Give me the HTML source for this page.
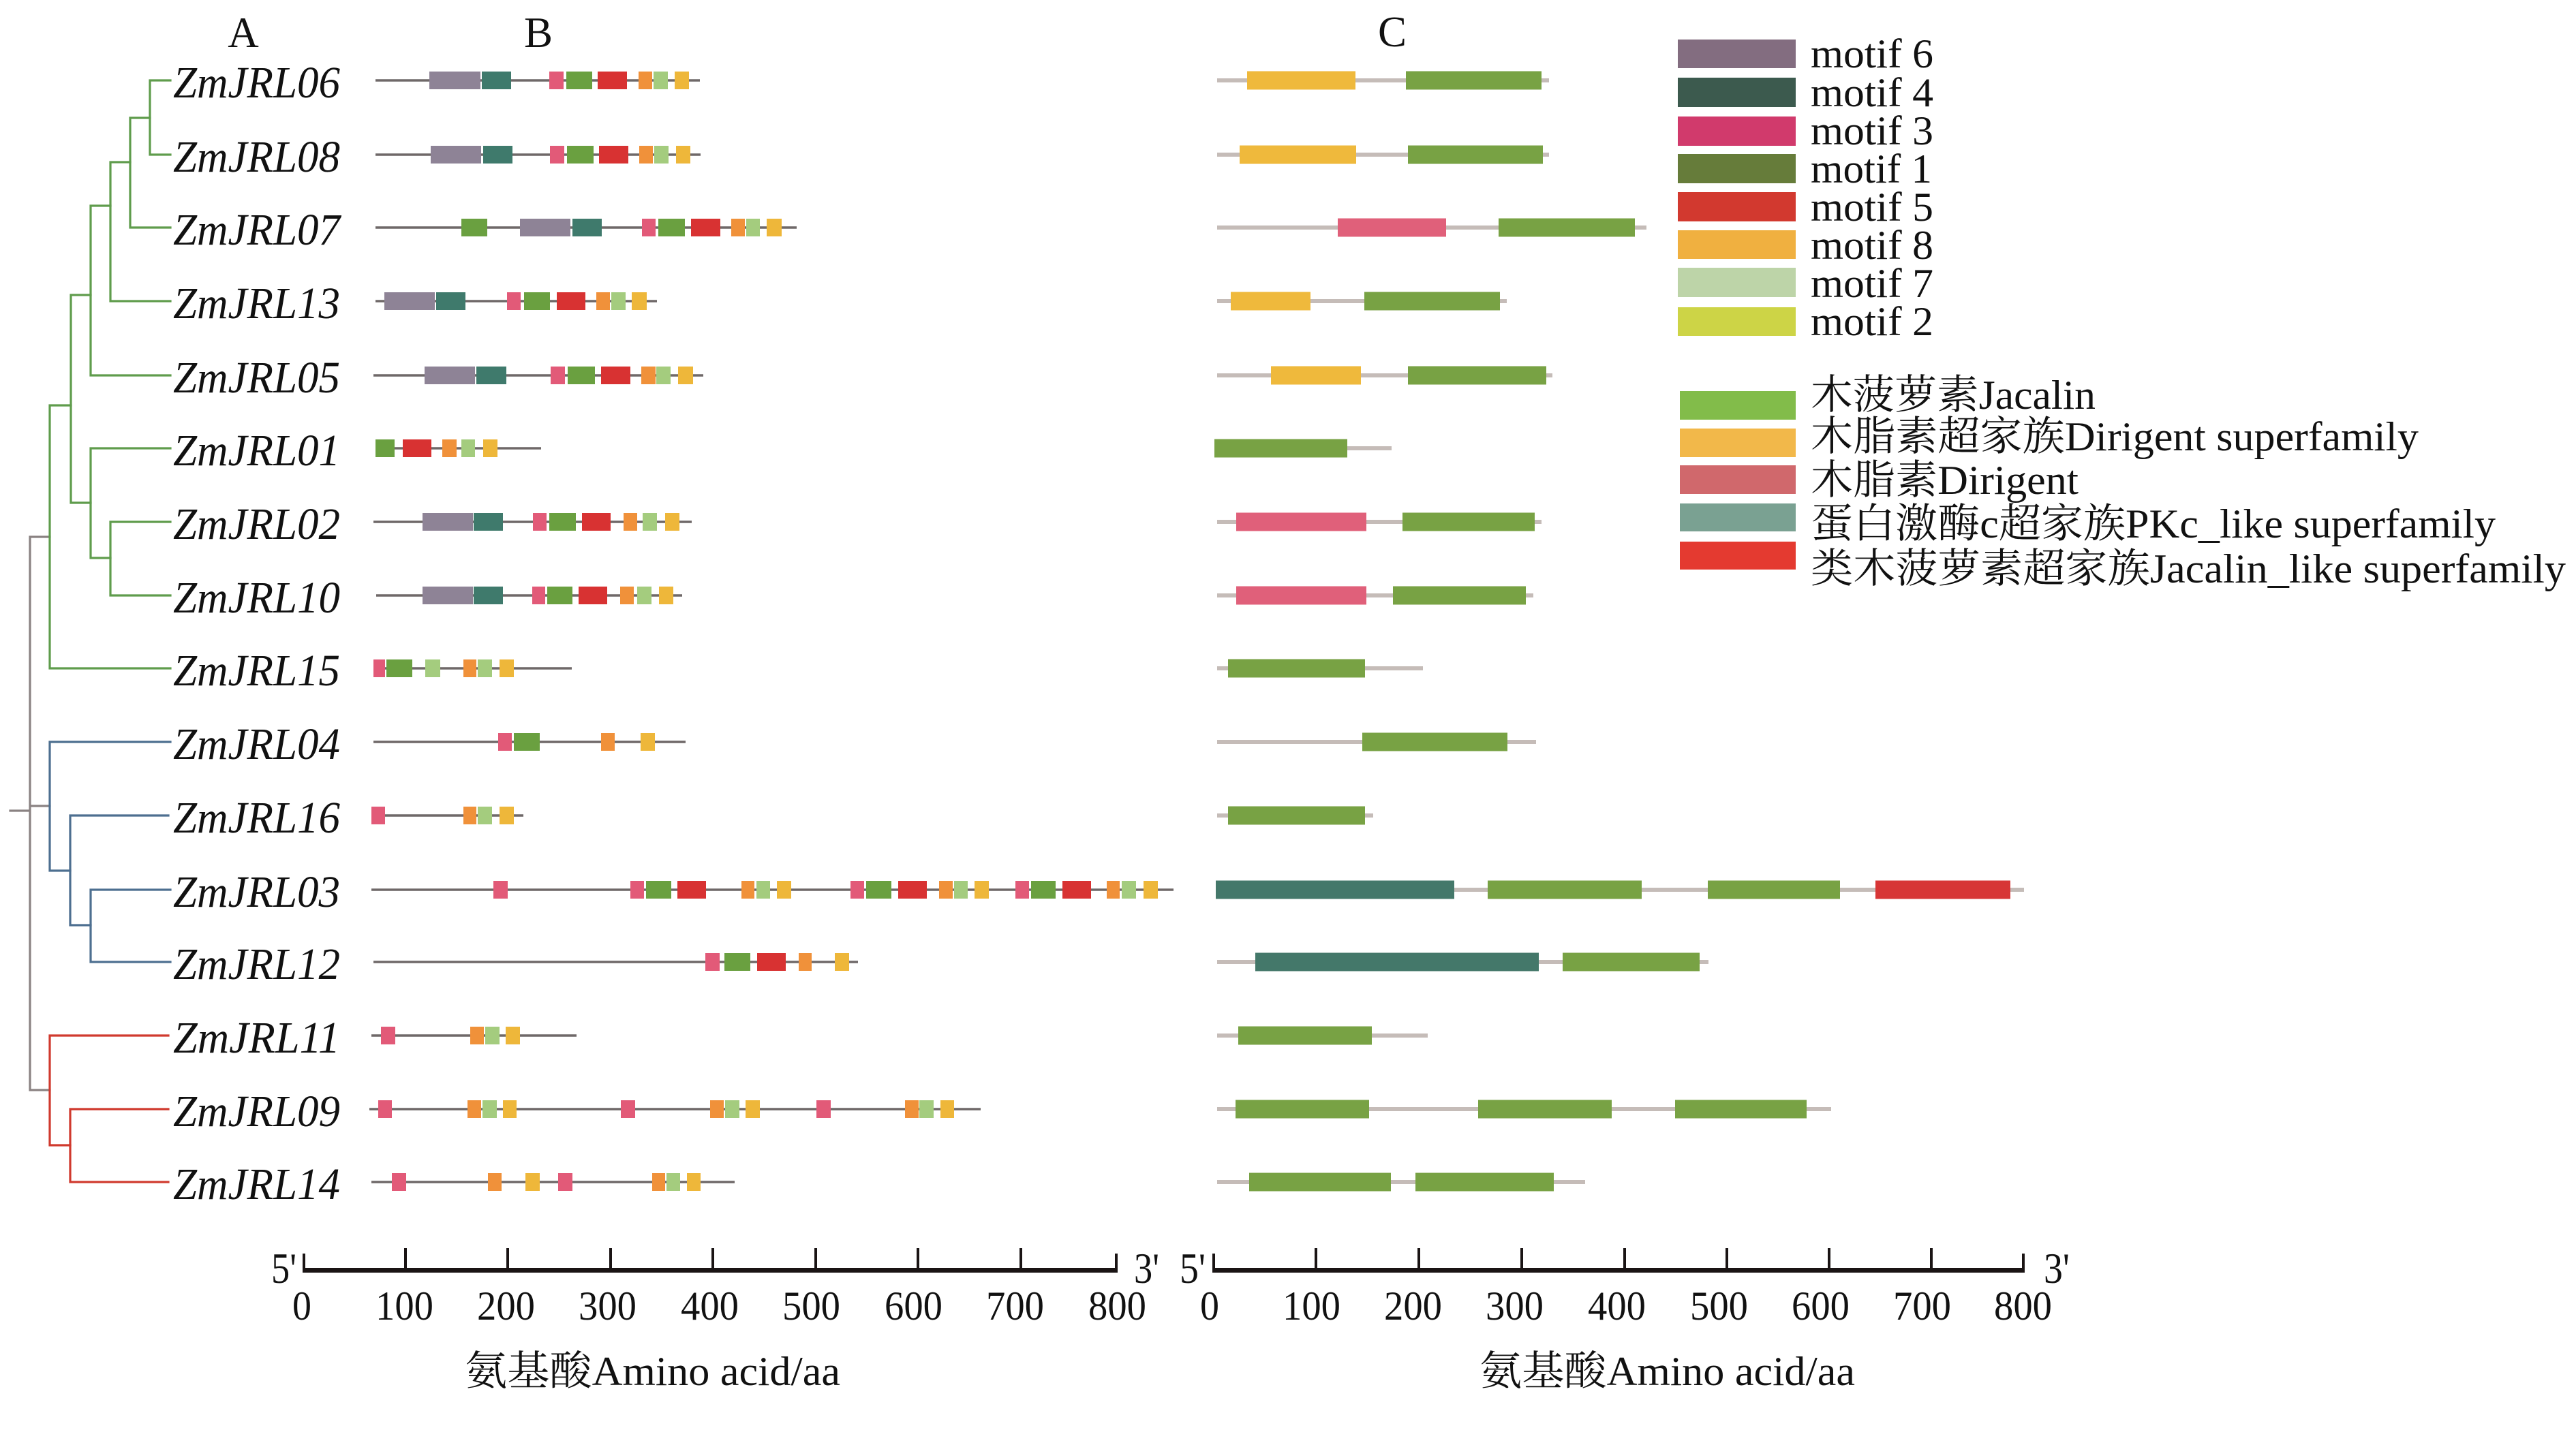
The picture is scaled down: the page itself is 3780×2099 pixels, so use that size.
<!DOCTYPE html>
<html><head><meta charset="utf-8"><style>
html,body{margin:0;padding:0;background:#fff;}
svg{display:block;}
text{font-family:"Liberation Serif","Noto Serif CJK SC",serif;fill:#111;}
</style></head><body>
<svg width="3780" height="2099" viewBox="0 0 3780 2099" xmlns="http://www.w3.org/2000/svg">
<rect width="3780" height="2099" fill="#fff"/>
<!-- panel titles -->
<text x="357" y="69" font-size="63" text-anchor="middle">A</text>
<text x="790" y="69" font-size="63" text-anchor="middle">B</text>
<text x="2043" y="68" font-size="63" text-anchor="middle">C</text>

<!-- tree -->
<g fill="none" stroke-width="3.2" stroke-linecap="square">
<g stroke="#8a8282">
<path d="M15 1190 H44 M44 788 V1600 M44 788 H73 M44 1183 H73 M44 1600 H73"/>
</g>
<g stroke="#5f9c4c">
<path d="M73 595 V981 M73 595 H104 M73 981 H250"/>
<path d="M104 433 V738 M104 433 H133 M104 738 H133"/>
<path d="M133 302 V551 M133 302 H162 M133 551 H250"/>
<path d="M162 238 V442 M162 238 H191 M162 442 H250"/>
<path d="M191 173 V334 M191 173 H220 M191 334 H250"/>
<path d="M220 118 V227 M220 118 H250 M220 227 H250"/>
<path d="M133 658 V819 M133 658 H250 M133 819 H162"/>
<path d="M162 766 V874 M162 766 H250 M162 874 H250"/>
</g>
<g stroke="#4d6f90">
<path d="M73 1089 V1278 M73 1089 H250 M73 1278 H103"/>
<path d="M103 1197 V1358 M103 1197 H247 M103 1358 H133"/>
<path d="M133 1306 V1412 M133 1306 H250 M133 1412 H250"/>
</g>
<g stroke="#d03a2e">
<path d="M73 1520 V1681 M73 1520 H247 M73 1681 H103"/>
<path d="M103 1628 V1735 M103 1628 H247 M103 1735 H247"/>
</g>
</g>

<!-- gene names -->
<g font-size="66" font-style="italic">
<text x="254" y="143" textLength="245" lengthAdjust="spacingAndGlyphs">ZmJRL06</text>
<text x="254" y="252" textLength="245" lengthAdjust="spacingAndGlyphs">ZmJRL08</text>
<text x="254" y="359" textLength="245" lengthAdjust="spacingAndGlyphs">ZmJRL07</text>
<text x="254" y="467" textLength="245" lengthAdjust="spacingAndGlyphs">ZmJRL13</text>
<text x="254" y="576" textLength="245" lengthAdjust="spacingAndGlyphs">ZmJRL05</text>
<text x="254" y="683" textLength="245" lengthAdjust="spacingAndGlyphs">ZmJRL01</text>
<text x="254" y="791" textLength="245" lengthAdjust="spacingAndGlyphs">ZmJRL02</text>
<text x="254" y="899" textLength="245" lengthAdjust="spacingAndGlyphs">ZmJRL10</text>
<text x="254" y="1006" textLength="245" lengthAdjust="spacingAndGlyphs">ZmJRL15</text>
<text x="254" y="1114" textLength="245" lengthAdjust="spacingAndGlyphs">ZmJRL04</text>
<text x="254" y="1222" textLength="245" lengthAdjust="spacingAndGlyphs">ZmJRL16</text>
<text x="254" y="1331" textLength="245" lengthAdjust="spacingAndGlyphs">ZmJRL03</text>
<text x="254" y="1437" textLength="245" lengthAdjust="spacingAndGlyphs">ZmJRL12</text>
<text x="254" y="1545" textLength="245" lengthAdjust="spacingAndGlyphs">ZmJRL11</text>
<text x="254" y="1653" textLength="245" lengthAdjust="spacingAndGlyphs">ZmJRL09</text>
<text x="254" y="1760" textLength="245" lengthAdjust="spacingAndGlyphs">ZmJRL14</text>
</g>

<!-- B panel lines -->
<g stroke="#6f6868" stroke-width="3.5">
<path d="M551 118H1027 M551 227H1028 M551 334H1169 M551 442H964 M548 551H1032 M551 658H794 M548 766H1015 M552 874H1001 M548 981H839 M548 1089H1006 M545 1197H768 M545 1306H1722 M548 1412H1259 M545 1520H846 M542 1628H1439 M545 1735H1078"/>
</g>
<!-- B motif boxes -->
<g id="B">
<g transform="translate(0,105)">
<rect x="630" width="75" height="26" fill="#8e8396"/><rect x="707" width="43" height="26" fill="#3f7a6c"/><rect x="806" width="21" height="26" fill="#e25a78"/><rect x="831" width="38" height="26" fill="#6aa040"/><rect x="877" width="43" height="26" fill="#d83232"/><rect x="937" width="20" height="26" fill="#f0913a"/><rect x="959" width="21" height="26" fill="#a4cc7e"/><rect x="990" width="21" height="26" fill="#eeb73a"/>
</g>
<g transform="translate(0,214)">
<rect x="632" width="74" height="26" fill="#8e8396"/><rect x="709" width="43" height="26" fill="#3f7a6c"/><rect x="807" width="21" height="26" fill="#e25a78"/><rect x="832" width="39" height="26" fill="#6aa040"/><rect x="879" width="43" height="26" fill="#d83232"/><rect x="938" width="20" height="26" fill="#f0913a"/><rect x="960" width="21" height="26" fill="#a4cc7e"/><rect x="992" width="21" height="26" fill="#eeb73a"/>
</g>
<g transform="translate(0,321)">
<rect x="677" width="38" height="26" fill="#6aa040"/><rect x="763" width="74" height="26" fill="#8e8396"/><rect x="840" width="43" height="26" fill="#3f7a6c"/><rect x="942" width="20" height="26" fill="#e25a78"/><rect x="966" width="39" height="26" fill="#6aa040"/><rect x="1014" width="43" height="26" fill="#d83232"/><rect x="1073" width="20" height="26" fill="#f0913a"/><rect x="1095" width="20" height="26" fill="#a4cc7e"/><rect x="1125" width="22" height="26" fill="#eeb73a"/>
</g>
<g transform="translate(0,429)">
<rect x="564" width="74" height="26" fill="#8e8396"/><rect x="640" width="43" height="26" fill="#3f7a6c"/><rect x="744" width="20" height="26" fill="#e25a78"/><rect x="769" width="38" height="26" fill="#6aa040"/><rect x="817" width="42" height="26" fill="#d83232"/><rect x="875" width="20" height="26" fill="#f0913a"/><rect x="897" width="21" height="26" fill="#a4cc7e"/><rect x="927" width="22" height="26" fill="#eeb73a"/>
</g>
<g transform="translate(0,538)">
<rect x="623" width="74" height="26" fill="#8e8396"/><rect x="699" width="44" height="26" fill="#3f7a6c"/><rect x="808" width="21" height="26" fill="#e25a78"/><rect x="833" width="40" height="26" fill="#6aa040"/><rect x="882" width="43" height="26" fill="#d83232"/><rect x="941" width="21" height="26" fill="#f0913a"/><rect x="963" width="21" height="26" fill="#a4cc7e"/><rect x="995" width="22" height="26" fill="#eeb73a"/>
</g>
<g transform="translate(0,645)">
<rect x="551" width="28" height="26" fill="#6aa040"/><rect x="591" width="42" height="26" fill="#d83232"/><rect x="649" width="21" height="26" fill="#f0913a"/><rect x="677" width="20" height="26" fill="#a4cc7e"/><rect x="709" width="21" height="26" fill="#eeb73a"/>
</g>
<g transform="translate(0,753)">
<rect x="620" width="74" height="26" fill="#8e8396"/><rect x="695" width="43" height="26" fill="#3f7a6c"/><rect x="782" width="20" height="26" fill="#e25a78"/><rect x="806" width="39" height="26" fill="#6aa040"/><rect x="854" width="42" height="26" fill="#d83232"/><rect x="915" width="20" height="26" fill="#f0913a"/><rect x="943" width="21" height="26" fill="#a4cc7e"/><rect x="976" width="21" height="26" fill="#eeb73a"/>
</g>
<g transform="translate(0,861)">
<rect x="620" width="74" height="26" fill="#8e8396"/><rect x="695" width="43" height="26" fill="#3f7a6c"/><rect x="781" width="19" height="26" fill="#e25a78"/><rect x="803" width="37" height="26" fill="#6aa040"/><rect x="849" width="42" height="26" fill="#d83232"/><rect x="910" width="20" height="26" fill="#f0913a"/><rect x="935" width="21" height="26" fill="#a4cc7e"/><rect x="967" width="21" height="26" fill="#eeb73a"/>
</g>
<g transform="translate(0,968)">
<rect x="548" width="17" height="26" fill="#e25a78"/><rect x="567" width="38" height="26" fill="#6aa040"/><rect x="624" width="22" height="26" fill="#a4cc7e"/><rect x="680" width="19" height="26" fill="#f0913a"/><rect x="701" width="21" height="26" fill="#a4cc7e"/><rect x="733" width="21" height="26" fill="#eeb73a"/>
</g>
<g transform="translate(0,1076)">
<rect x="731" width="20" height="26" fill="#e25a78"/><rect x="754" width="38" height="26" fill="#6aa040"/><rect x="882" width="20" height="26" fill="#f0913a"/><rect x="940" width="21" height="26" fill="#eeb73a"/>
</g>
<g transform="translate(0,1184)">
<rect x="545" width="20" height="26" fill="#e25a78"/><rect x="680" width="19" height="26" fill="#f0913a"/><rect x="701" width="21" height="26" fill="#a4cc7e"/><rect x="733" width="21" height="26" fill="#eeb73a"/>
</g>
<g transform="translate(0,1293)">
<rect x="724" width="21" height="26" fill="#e25a78"/>
<rect x="925" width="20" height="26" fill="#e25a78"/><rect x="948" width="37" height="26" fill="#6aa040"/><rect x="994" width="42" height="26" fill="#d83232"/><rect x="1088" width="19" height="26" fill="#f0913a"/><rect x="1110" width="20" height="26" fill="#a4cc7e"/><rect x="1140" width="21" height="26" fill="#eeb73a"/>
<rect x="1248" width="20" height="26" fill="#e25a78"/><rect x="1271" width="37" height="26" fill="#6aa040"/><rect x="1318" width="42" height="26" fill="#d83232"/><rect x="1378" width="20" height="26" fill="#f0913a"/><rect x="1400" width="20" height="26" fill="#a4cc7e"/><rect x="1430" width="21" height="26" fill="#eeb73a"/>
<rect x="1490" width="20" height="26" fill="#e25a78"/><rect x="1513" width="36" height="26" fill="#6aa040"/><rect x="1559" width="42" height="26" fill="#d83232"/><rect x="1624" width="19" height="26" fill="#f0913a"/><rect x="1646" width="21" height="26" fill="#a4cc7e"/><rect x="1678" width="21" height="26" fill="#eeb73a"/>
</g>
<g transform="translate(0,1399)">
<rect x="1035" width="21" height="26" fill="#e25a78"/><rect x="1063" width="38" height="26" fill="#6aa040"/><rect x="1111" width="42" height="26" fill="#d83232"/><rect x="1172" width="19" height="26" fill="#f0913a"/><rect x="1225" width="21" height="26" fill="#eeb73a"/>
</g>
<g transform="translate(0,1507)">
<rect x="559" width="21" height="26" fill="#e25a78"/><rect x="690" width="20" height="26" fill="#f0913a"/><rect x="712" width="21" height="26" fill="#a4cc7e"/><rect x="742" width="21" height="26" fill="#eeb73a"/>
</g>
<g transform="translate(0,1615)">
<rect x="555" width="20" height="26" fill="#e25a78"/><rect x="686" width="20" height="26" fill="#f0913a"/><rect x="708" width="21" height="26" fill="#a4cc7e"/><rect x="738" width="20" height="26" fill="#eeb73a"/>
<rect x="911" width="21" height="26" fill="#e25a78"/><rect x="1042" width="20" height="26" fill="#f0913a"/><rect x="1064" width="21" height="26" fill="#a4cc7e"/><rect x="1094" width="21" height="26" fill="#eeb73a"/>
<rect x="1198" width="21" height="26" fill="#e25a78"/><rect x="1328" width="20" height="26" fill="#f0913a"/><rect x="1349" width="21" height="26" fill="#a4cc7e"/><rect x="1380" width="20" height="26" fill="#eeb73a"/>
</g>
<g transform="translate(0,1722)">
<rect x="575" width="21" height="26" fill="#e25a78"/><rect x="716" width="20" height="26" fill="#f0913a"/><rect x="771" width="21" height="26" fill="#eeb73a"/><rect x="819" width="21" height="26" fill="#e25a78"/><rect x="957" width="19" height="26" fill="#f0913a"/><rect x="978" width="20" height="26" fill="#a4cc7e"/><rect x="1008" width="20" height="26" fill="#eeb73a"/>
</g>
</g>

<!-- C panel lines -->
<g stroke="#c5bcb8" stroke-width="6">
<path d="M1786 118H2273 M1786 227H2273 M1786 334H2416 M1786 442H2211 M1786 551H2278 M1782 658H2042 M1786 766H2262 M1786 874H2250 M1786 981H2088 M1786 1089H2254 M1786 1197H2015 M1784 1306H2970 M1786 1412H2507 M1786 1520H2095 M1786 1628H2687 M1786 1735H2326"/>
</g>
<!-- C domain boxes -->
<g>
<rect x="1830" y="104.5" width="159" height="27" fill="#efb93c"/><rect x="2063" y="104.5" width="199" height="27" fill="#78a244"/>
<rect x="1819" y="213.5" width="171" height="27" fill="#efb93c"/><rect x="2066" y="213.5" width="198" height="27" fill="#78a244"/>
<rect x="1963" y="320.5" width="159" height="27" fill="#e0607a"/><rect x="2199" y="320.5" width="200" height="27" fill="#78a244"/>
<rect x="1806" y="428.5" width="117" height="27" fill="#efb93c"/><rect x="2002" y="428.5" width="199" height="27" fill="#78a244"/>
<rect x="1865" y="537.5" width="132" height="27" fill="#efb93c"/><rect x="2066" y="537.5" width="203" height="27" fill="#78a244"/>
<rect x="1782" y="644.5" width="195" height="27" fill="#78a244"/>
<rect x="1814" y="752.5" width="191" height="27" fill="#e0607a"/><rect x="2058" y="752.5" width="194" height="27" fill="#78a244"/>
<rect x="1814" y="860.5" width="191" height="27" fill="#e0607a"/><rect x="2044" y="860.5" width="195" height="27" fill="#78a244"/>
<rect x="1802" y="967.5" width="201" height="27" fill="#78a244"/>
<rect x="1999" y="1075.5" width="213" height="27" fill="#78a244"/>
<rect x="1802" y="1183.5" width="201" height="27" fill="#78a244"/>
<rect x="1784" y="1292.5" width="350" height="27" fill="#44786a"/><rect x="2183" y="1292.5" width="226" height="27" fill="#78a244"/><rect x="2506" y="1292.5" width="194" height="27" fill="#78a244"/><rect x="2752" y="1292.5" width="198" height="27" fill="#d73636"/>
<rect x="1842" y="1398.5" width="416" height="27" fill="#44786a"/><rect x="2293" y="1398.5" width="201" height="27" fill="#78a244"/>
<rect x="1817" y="1506.5" width="196" height="27" fill="#78a244"/>
<rect x="1813" y="1614.5" width="196" height="27" fill="#78a244"/><rect x="2169" y="1614.5" width="196" height="27" fill="#78a244"/><rect x="2458" y="1614.5" width="193" height="27" fill="#78a244"/>
<rect x="1833" y="1721.5" width="208" height="27" fill="#78a244"/><rect x="2077" y="1721.5" width="203" height="27" fill="#78a244"/>
</g>

<!-- Legend motifs -->
<g>
<rect x="2462" y="58" width="173" height="42" fill="#836d80"/>
<rect x="2462" y="114" width="173" height="43" fill="#3c5a4e"/>
<rect x="2462" y="171" width="173" height="43" fill="#d13a6c"/>
<rect x="2462" y="226" width="173" height="43" fill="#667c3a"/>
<rect x="2462" y="282" width="173" height="43" fill="#d2392f"/>
<rect x="2462" y="338" width="173" height="42" fill="#f0b040"/>
<rect x="2462" y="393" width="173" height="43" fill="#bdd4a8"/>
<rect x="2462" y="451" width="173" height="42" fill="#cdd446"/>
</g>
<g font-size="60">
<text x="2657" y="99" textLength="180" lengthAdjust="spacingAndGlyphs">motif 6</text>
<text x="2657" y="156" textLength="180" lengthAdjust="spacingAndGlyphs">motif 4</text>
<text x="2657" y="212" textLength="180" lengthAdjust="spacingAndGlyphs">motif 3</text>
<text x="2657" y="268" textLength="178" lengthAdjust="spacingAndGlyphs">motif 1</text>
<text x="2657" y="324" textLength="180" lengthAdjust="spacingAndGlyphs">motif 5</text>
<text x="2657" y="380" textLength="180" lengthAdjust="spacingAndGlyphs">motif 8</text>
<text x="2657" y="436" textLength="180" lengthAdjust="spacingAndGlyphs">motif 7</text>
<text x="2657" y="492" textLength="180" lengthAdjust="spacingAndGlyphs">motif 2</text>
</g>
<!-- Legend domains -->
<g>
<rect x="2465" y="574" width="170" height="42" fill="#82bc4a"/>
<rect x="2465" y="629" width="170" height="42" fill="#f2b84a"/>
<rect x="2465" y="683" width="170" height="42" fill="#d0686c"/>
<rect x="2465" y="739" width="170" height="41" fill="#7aa192"/>
<rect x="2465" y="795" width="170" height="41" fill="#e43a30"/>
</g>
<g font-size="60">
<text x="2657" y="600" textLength="418" lengthAdjust="spacingAndGlyphs">木菠萝素Jacalin</text>
<text x="2657" y="661" textLength="892" lengthAdjust="spacingAndGlyphs">木脂素超家族Dirigent superfamily</text>
<text x="2657" y="725" textLength="393" lengthAdjust="spacingAndGlyphs">木脂素Dirigent</text>
<text x="2657" y="789" textLength="1005" lengthAdjust="spacingAndGlyphs">蛋白激酶c超家族PKc_like superfamily</text>
<text x="2657" y="855" textLength="1108" lengthAdjust="spacingAndGlyphs">类木菠萝素超家族Jacalin_like superfamily</text>
</g>

<!-- Axis B -->
<g stroke="#1a1414" fill="none">
<path d="M444 1864.5 H1640" stroke-width="7"/>
<path d="M446 1840 V1868 M1638 1840 V1868" stroke-width="4"/>
<path d="M595 1832 V1862 M745 1832 V1862 M896 1832 V1862 M1046 1832 V1862 M1197 1832 V1862 M1347 1832 V1862 M1498 1832 V1862" stroke-width="4"/>
</g>
<!-- Axis C -->
<g stroke="#1a1414" fill="none">
<path d="M1779 1864.5 H2971" stroke-width="7"/>
<path d="M1781 1840 V1868 M2969 1840 V1868" stroke-width="4"/>
<path d="M1931 1832 V1862 M2082 1832 V1862 M2233 1832 V1862 M2384 1832 V1862 M2534 1832 V1862 M2684 1832 V1862 M2834 1832 V1862" stroke-width="4"/>
</g>
<g font-size="64">
<text x="398" y="1883" textLength="37" lengthAdjust="spacingAndGlyphs">5'</text>
<text x="1664" y="1883" textLength="37" lengthAdjust="spacingAndGlyphs">3'</text>
<text x="1731" y="1883" textLength="38" lengthAdjust="spacingAndGlyphs">5'</text>
<text x="2999" y="1883" textLength="38" lengthAdjust="spacingAndGlyphs">3'</text>
</g>
<g font-size="60">
<text x="429" y="1937" textLength="28" lengthAdjust="spacingAndGlyphs">0</text>
<text x="551" y="1937" textLength="85" lengthAdjust="spacingAndGlyphs">100</text>
<text x="700" y="1937" textLength="85" lengthAdjust="spacingAndGlyphs">200</text>
<text x="849" y="1937" textLength="85" lengthAdjust="spacingAndGlyphs">300</text>
<text x="999" y="1937" textLength="85" lengthAdjust="spacingAndGlyphs">400</text>
<text x="1148" y="1937" textLength="85" lengthAdjust="spacingAndGlyphs">500</text>
<text x="1298" y="1937" textLength="85" lengthAdjust="spacingAndGlyphs">600</text>
<text x="1447" y="1937" textLength="85" lengthAdjust="spacingAndGlyphs">700</text>
<text x="1597" y="1937" textLength="85" lengthAdjust="spacingAndGlyphs">800</text>
<text x="1761" y="1937" textLength="28" lengthAdjust="spacingAndGlyphs">0</text>
<text x="1882" y="1937" textLength="85" lengthAdjust="spacingAndGlyphs">100</text>
<text x="2031" y="1937" textLength="85" lengthAdjust="spacingAndGlyphs">200</text>
<text x="2180" y="1937" textLength="85" lengthAdjust="spacingAndGlyphs">300</text>
<text x="2330" y="1937" textLength="85" lengthAdjust="spacingAndGlyphs">400</text>
<text x="2480" y="1937" textLength="85" lengthAdjust="spacingAndGlyphs">500</text>
<text x="2629" y="1937" textLength="85" lengthAdjust="spacingAndGlyphs">600</text>
<text x="2778" y="1937" textLength="85" lengthAdjust="spacingAndGlyphs">700</text>
<text x="2926" y="1937" textLength="85" lengthAdjust="spacingAndGlyphs">800</text>
</g>
<g font-size="60">
<text x="682" y="2033" textLength="551" lengthAdjust="spacingAndGlyphs">氨基酸Amino acid/aa</text>
<text x="2171" y="2033" textLength="551" lengthAdjust="spacingAndGlyphs">氨基酸Amino acid/aa</text>
</g>
</svg>
</body></html>
